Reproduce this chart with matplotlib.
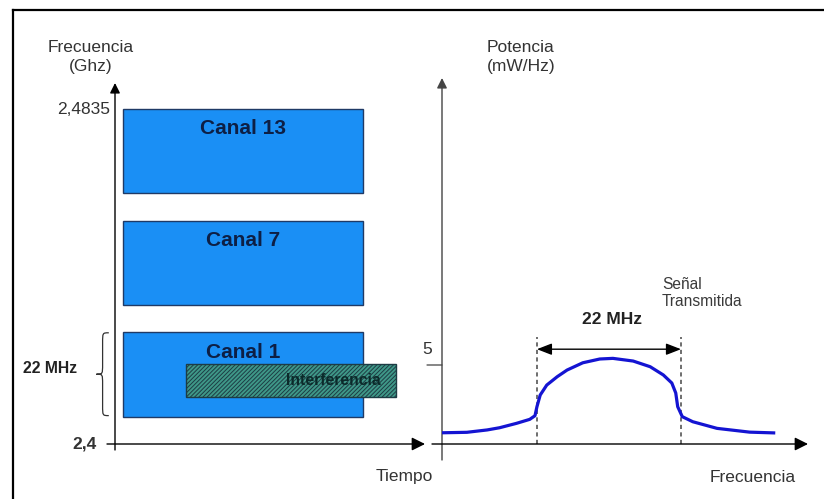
import matplotlib
matplotlib.use("Agg")
import matplotlib.pyplot as plt
from matplotlib.lines import Line2D
from matplotlib.patches import Rectangle, PathPatch
from matplotlib.path import Path

plt.rcParams["font.family"] = ["Liberation Sans", "DejaVu Sans"]
plt.rcParams["hatch.linewidth"] = 0.7

# left panel: channels over time (GHz)
channel_names = ["Canal 1", "Canal 7", "Canal 13"]
channel_low_ghz = [2.4068, 2.4348, 2.4628]
channel_high_ghz = [2.4280, 2.4558, 2.4838]
channel_time = (0.25, 8.0)
interference_time = (2.3, 9.05)
interference_ghz = (2.4118, 2.4200)
freq_ticks = [2.4, 2.4835]
freq_tick_labels = ["2,4", "2,4835"]

# right panel: transmitted signal spectrum
spectrum_mhz = [-25.5, -21.7, -18.6, -16.7, -14.1, -12.1, -11.3, -11.0, -10.5,
                -9.5, -7.9, -6.4, -4.0, -1.4, 0.6, 3.7, 6.3, 8.3, 9.6, 10.2,
                10.5, 11.2, 12.8, 16.5, 21.5, 25.4]
spectrum_power = [0.71, 0.74, 0.89, 1.03, 1.31, 1.56, 1.79, 2.36, 3.10, 3.73,
                  4.26, 4.68, 5.14, 5.38, 5.42, 5.25, 4.89, 4.37, 3.86, 3.23,
                  2.36, 1.73, 1.41, 0.99, 0.75, 0.70]
band_edges_mhz = [-11.0, 11.0]
power_tick = 5

W, H = 824, 499
fig = plt.figure(figsize=(W / 100, H / 100), dpi=100)


def fx(px):
    return px / W


def fy(py):
    return 1 - py / H


# outer frame
fig.add_artist(Line2D([fx(13), 1], [fy(10), fy(10)], color="black", lw=1.6,
                      transform=fig.transFigure))
fig.add_artist(Line2D([fx(13), fx(13)], [0, fy(10)], color="black", lw=1.6,
                      transform=fig.transFigure))

arrow_kw = dict(arrowstyle="-|>,head_length=0.6,head_width=0.3", color="black",
                lw=1.0, shrinkA=0, shrinkB=0, mutation_scale=10)
harrow_kw = dict(arrowstyle="-|>,head_length=0.8,head_width=0.4", color="black",
                 lw=1.0, shrinkA=0, shrinkB=0, mutation_scale=10)

# ---------- left panel ----------
ax1 = fig.add_axes([fx(115), fy(444), fx(425) - fx(115), fy(83) - fy(444)])
ax1.set_xlim(0, 10)
ax1.set_ylim(2.4, 2.4 + 361 / 4000)
ax1.axis("off")

for name, lo, hi in zip(channel_names, channel_low_ghz, channel_high_ghz):
    ax1.add_patch(Rectangle((channel_time[0], lo), channel_time[1] - channel_time[0],
                            hi - lo, facecolor="#1a8ff5", edgecolor="#1f3a66",
                            lw=1.0, zorder=2))
    ax1.annotate(name, xy=(sum(channel_time) / 2, hi), xytext=(0, -20),
                 textcoords="offset pixels", ha="center", va="center",
                 fontsize=15, fontweight="bold", color="#0d1f45", zorder=4)

ax1.add_patch(Rectangle((interference_time[0], interference_ghz[0]),
                        interference_time[1] - interference_time[0],
                        interference_ghz[1] - interference_ghz[0],
                        facecolor="#3f9888", edgecolor="#1d3c44", hatch="////////",
                        lw=1.0, zorder=3, clip_on=False))
ax1.annotate("Interferencia", xy=(interference_time[1], sum(interference_ghz) / 2),
             xytext=(-15, 0), textcoords="offset pixels", ha="right", va="center",
             fontsize=11.3, fontweight="bold", color="#0b2a2a", zorder=4,
             annotation_clip=False)

# axes lines
ax1.annotate("", xy=(0, 1), xytext=(0, -6 / 361), xycoords="axes fraction",
             arrowprops=arrow_kw, annotation_clip=False)
ax1.annotate("", xy=(1, 0), xytext=(-8 / 310, 0), xycoords="axes fraction",
             arrowprops=harrow_kw, annotation_clip=False)

# y tick labels
ax1.annotate(freq_tick_labels[1], xy=(0, freq_ticks[1]),
             xycoords=("axes fraction", "data"), xytext=(-5, 0),
             textcoords="offset pixels", ha="right", va="center",
             fontsize=12.5, color="#333333", annotation_clip=False)
ax1.annotate(freq_tick_labels[0], xy=(0, freq_ticks[0]),
             xycoords=("axes fraction", "data"), xytext=(-18, 0),
             textcoords="offset pixels", ha="right", va="center",
             fontsize=12.5, fontweight="bold", color="#333333",
             annotation_clip=False)

# brace marking channel 1 width
lo, hi = channel_low_ghz[0] + 0.0003, channel_high_ghz[0] - 0.0002
xr, xm, xt = -0.2, -0.4, -0.6
ym = (lo + hi) / 2
q = 0.0025
verts = [(xr, hi), (xm, hi), (xm, hi), (xm, hi - q),
         (xm, ym + q),
         (xm, ym), (xm, ym), (xt, ym),
         (xm, ym), (xm, ym), (xm, ym - q),
         (xm, lo + q),
         (xm, lo), (xm, lo), (xr, lo)]
codes = [Path.MOVETO, Path.CURVE4, Path.CURVE4, Path.CURVE4,
         Path.LINETO,
         Path.CURVE4, Path.CURVE4, Path.CURVE4,
         Path.CURVE4, Path.CURVE4, Path.CURVE4,
         Path.LINETO,
         Path.CURVE4, Path.CURVE4, Path.CURVE4]
ax1.add_patch(PathPatch(Path(verts, codes), facecolor="none", edgecolor="#333333",
                        lw=0.9, clip_on=False))
ax1.annotate("22 MHz", xy=(xt, ym), xytext=(-19, 6), textcoords="offset pixels",
             ha="right", va="center", fontsize=11.3, fontweight="bold",
             color="#222222", annotation_clip=False)

# ---------- right panel ----------
ax2 = fig.add_axes([fx(442), fy(444), fx(808) - fx(442), fy(78) - fy(444)])
ax2.set_xlim(-25.5, 30.4)
ax2.set_ylim(0, 366 / 15.8)
ax2.axis("off")

ax2.annotate("", xy=(0, 1), xytext=(0, -16 / 366), xycoords="axes fraction",
             arrowprops=dict(arrow_kw, color="#444444"), annotation_clip=False)
ax2.annotate("", xy=(1, 0), xytext=(-10 / 366, 0), xycoords="axes fraction",
             arrowprops=harrow_kw, annotation_clip=False)

ax2.plot(spectrum_mhz, spectrum_power, color="#1414d2", lw=2.3,
         solid_joinstyle="round", solid_capstyle="butt", zorder=3)

for edge in band_edges_mhz:
    ax2.plot([edge, edge], [0, 6.77], color="#555555", lw=1.2,
             linestyle=(0, (2.5, 2)), zorder=2)

ax2.annotate("", xy=(band_edges_mhz[1], 6.0), xytext=(band_edges_mhz[0], 6.0),
             arrowprops=dict(arrowstyle="<|-|>,head_length=0.9,head_width=0.35",
                             color="black", lw=1.0, shrinkA=0, shrinkB=0,
                             mutation_scale=10))
ax2.text(0.5, 7.85, "22 MHz", ha="center", va="center", fontsize=12.5,
         fontweight="bold", color="#222222")
ax2.text(8.1, 9.55, "Señal\nTransmitida", ha="left", va="center", fontsize=11.2,
         color="#3a3a3a", linespacing=1.15)

# power tick
ax2.annotate("", xy=(0, power_tick), xycoords=("axes fraction", "data"),
             xytext=(-15, 0), textcoords="offset pixels",
             arrowprops=dict(arrowstyle="-", color="#444444", lw=0.9,
                             shrinkA=0, shrinkB=0), annotation_clip=False)
ax2.annotate(str(power_tick), xy=(0, power_tick),
             xycoords=("axes fraction", "data"), xytext=(-15, 15),
             textcoords="offset pixels", ha="center", va="center",
             fontsize=12.5, color="#333333", annotation_clip=False)

# axis titles
txt = dict(fontsize=12.5, color="#333333", va="center")
fig.text(fx(91), fy(47), "Frecuencia", ha="center", **txt)
fig.text(fx(91), fy(67), "(Ghz)", ha="center", **txt)
fig.text(fx(487), fy(47), "Potencia", ha="left", **txt)
fig.text(fx(487), fy(67), "(mW/Hz)", ha="left", **txt)
fig.text(fx(404), fy(477), "Tiempo", ha="center", **txt)
fig.text(fx(753), fy(477), "Frecuencia", ha="center", **txt)

fig.savefig("out.png", dpi=100)
